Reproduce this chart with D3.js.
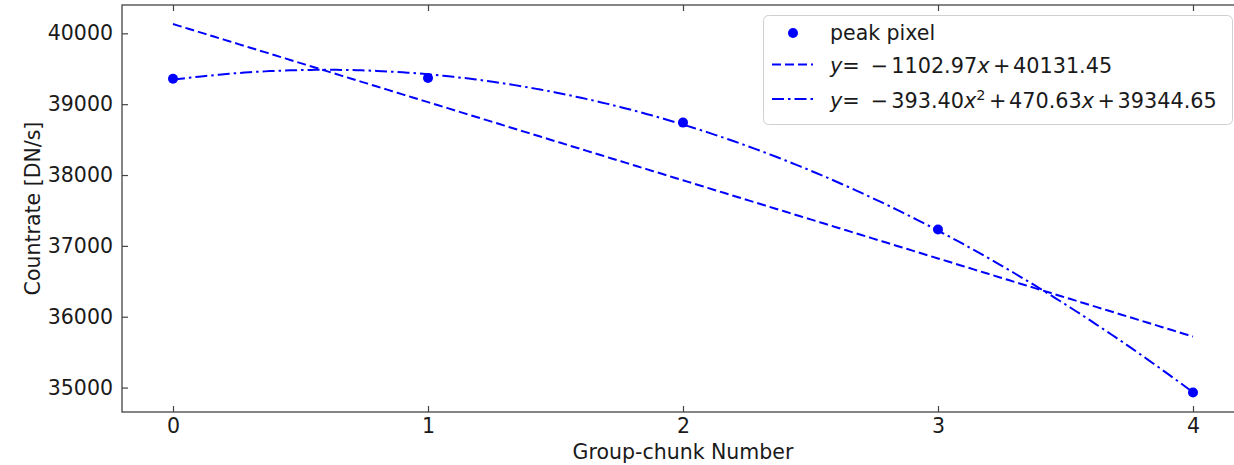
<!DOCTYPE html>
<html><head><meta charset="utf-8">
<script src="https://cdn.jsdelivr.net/npm/d3@7"></script>
<style>body{margin:0;background:#fff}svg{display:block}text{font-family:"DejaVu Sans",sans-serif;fill:#1a1a1a}</style>
</head><body>
<svg id="c" width="1234" height="465"></svg>
<script>
const chunks = [0, 1, 2, 3, 4];
const peakCounts = [39360, 39370, 38740, 37230, 34930];
const linearCoef = [-1102.97, 40131.45];          // slope, intercept (from legend)
const quadCoef = [-393.40, 470.63, 39344.65];      // a, b, c (from legend)
const xTicks = [0, 1, 2, 3, 4];
const yTicks = [35000, 36000, 37000, 38000, 39000, 40000];
const legendLabels = ["peak pixel"];

const FS = 20.5;
const svg = d3.select("#c");
const L = 122, R = 1244, T = 5, B = 412;
const x = d3.scaleLinear().domain([-0.2, 4.2]).range([L, R]);
const y = d3.scaleLinear().domain([34655, 40400]).range([B, T]);
const blue = "#0000ff";

// frame
svg.append("rect").attr("x", L).attr("y", T).attr("width", R - L).attr("height", B - T)
  .attr("fill", "none").attr("stroke", "#444").attr("stroke-width", 1.3);

// axes (ticks inward)
const ax = d3.axisBottom(x).tickValues(xTicks).tickSizeInner(-6).tickSizeOuter(0).tickPadding(6).tickFormat(d3.format("d"));
const gx = svg.append("g").attr("transform", `translate(0,${B})`).call(ax);
const axT = d3.axisTop(x).tickValues(xTicks).tickSizeInner(-6).tickSizeOuter(0).tickFormat("");
const gxt = svg.append("g").attr("transform", `translate(0,${T})`).call(axT);
const ay = d3.axisLeft(y).tickValues(yTicks).tickSizeInner(-6).tickSizeOuter(0).tickPadding(9).tickFormat(d3.format("d"));
const gy = svg.append("g").attr("transform", `translate(${L},0)`).call(ay);
const ayR = d3.axisRight(y).tickValues(yTicks).tickSizeInner(-6).tickSizeOuter(0).tickFormat("");
const gyr = svg.append("g").attr("transform", `translate(${R},0)`).call(ayR);
[gx, gxt, gy, gyr].forEach(g => {
  g.select(".domain").remove();
  g.selectAll(".tick line").attr("stroke", "#444").attr("stroke-width", 1.2);
  g.selectAll(".tick text").attr("font-size", FS).attr("fill", "#1a1a1a").style("font-family", "DejaVu Sans");
});

// fit curves
const xs = d3.range(0, 4.0001, 0.02);
const line = d3.line().x(d => x(d[0])).y(d => y(d[1]));
svg.append("path").datum(xs.map(v => [v, linearCoef[0] * v + linearCoef[1]]))
  .attr("d", line).attr("fill", "none").attr("stroke", blue).attr("stroke-width", 2)
  .attr("stroke-dasharray", "9,4");
svg.append("path").datum(xs.map(v => [v, quadCoef[0] * v * v + quadCoef[1] * v + quadCoef[2]]))
  .attr("d", line).attr("fill", "none").attr("stroke", blue).attr("stroke-width", 2)
  .attr("stroke-dasharray", "12,4,2.5,4");

// points
svg.selectAll("circle.pt").data(chunks).enter().append("circle").attr("class", "pt")
  .attr("cx", (d) => x(d)).attr("cy", (d, i) => y(peakCounts[i])).attr("r", 5).attr("fill", blue);

// axis labels
svg.append("text").attr("x", (L + R) / 2).attr("y", 459).attr("text-anchor", "middle")
  .attr("font-size", FS).text("Group-chunk Number");
svg.append("text").attr("transform", `translate(40,${(T + B) / 2}) rotate(-90)`).attr("text-anchor", "middle")
  .attr("font-size", FS).text("Countrate [DN/s]");

// legend
const lg = svg.append("g");
lg.append("rect").attr("x", 763.5).attr("y", 15.5).attr("width", 469).attr("height", 109).attr("rx", 5)
  .attr("fill", "#fff").attr("fill-opacity", 0.85).attr("stroke", "#d0d0d0").attr("stroke-width", 1);
const rows = [33, 64.5, 99];
lg.append("circle").attr("cx", 793).attr("cy", rows[0]).attr("r", 5).attr("fill", blue);
lg.append("line").attr("x1", 772).attr("x2", 813).attr("y1", rows[1]).attr("y2", rows[1])
  .attr("stroke", blue).attr("stroke-width", 2).attr("stroke-dasharray", "9,4");
lg.append("line").attr("x1", 772).attr("x2", 813).attr("y1", rows[2]).attr("y2", rows[2])
  .attr("stroke", blue).attr("stroke-width", 2).attr("stroke-dasharray", "12,4,2.5,4");
lg.append("text").attr("x", 830).attr("y", 40).attr("font-size", FS).text(legendLabels[0]);

// math-style legend text (mathtext-like spacing via dx)
function mathText(base, parts) {
  const t = lg.append("text").attr("x", 830).attr("y", base).attr("font-size", 20.8);
  parts.forEach(p => {
    const s = t.append("tspan").text(p.t);
    if (p.i) s.attr("font-style", "italic");
    if (p.dx) s.attr("dx", p.dx);
    if (p.sup) s.attr("dy", -7.5).attr("font-size", 14.5);
    if (p.down) s.attr("dy", 7.5);
  });
}
const fmt = v => Math.abs(v).toFixed(2);
mathText(72.7, [{t: "y", i: 1}, {t: "="}, {t: "\u2212", dx: 11}, {t: fmt(linearCoef[0]), dx: 3}, {t: "x", i: 1},
  {t: "+", dx: 3.5}, {t: fmt(linearCoef[1]), dx: 2.5}]);
mathText(107.7, [{t: "y", i: 1}, {t: "="}, {t: "\u2212", dx: 11}, {t: fmt(quadCoef[0]), dx: 3}, {t: "x", i: 1}, {t: "2", sup: 1},
  {t: "+", dx: 3.5, down: 1}, {t: fmt(quadCoef[1]), dx: 2.5}, {t: "x", i: 1}, {t: "+", dx: 3.5}, {t: fmt(quadCoef[2]), dx: 2.5}]);
</script>
</body></html>
